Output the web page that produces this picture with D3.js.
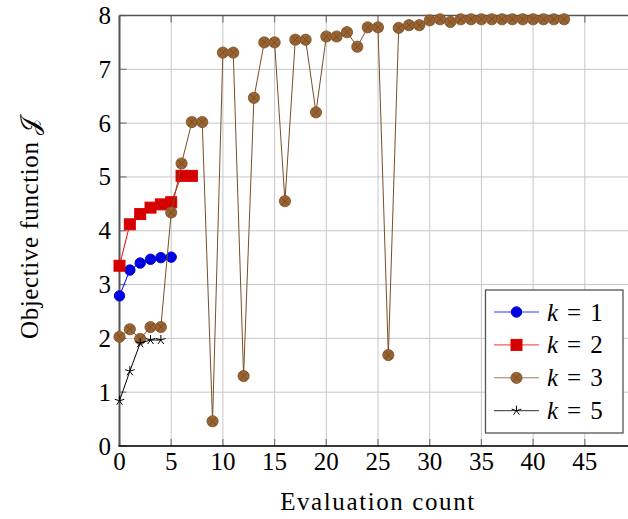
<!DOCTYPE html>
<html>
<head>
<meta charset="utf-8">
<script src="https://cdn.jsdelivr.net/npm/d3@7"></script>
<style>
  body { margin: 0; background: #fff; }
  text { font-family: "Liberation Serif", "DejaVu Serif", serif; }
</style>
</head>
<body>
<svg></svg>
<script>
// data
let k1 = [2.79, 3.27, 3.40, 3.47, 3.50, 3.51];
let k2 = [3.35, 4.12, 4.31, 4.43, 4.49, 4.53, 5.02, 5.02];
let k3 = [2.03, 2.17, 1.99, 2.21, 2.21, 4.34, 5.25, 6.02, 6.02, 0.46,
          7.31, 7.31, 1.30, 6.47, 7.50, 7.50, 4.55, 7.55, 7.55, 6.20,
          7.61, 7.61, 7.69, 7.42, 7.78, 7.78, 1.69, 7.77, 7.82, 7.82,
          7.91, 7.93, 7.88, 7.93, 7.93, 7.93, 7.93, 7.93, 7.93, 7.93,
          7.93, 7.93, 7.93, 7.93];
let k5 = [0.84, 1.39, 1.91, 1.97, 1.97];
let xTicks = [0, 5, 10, 15, 20, 25, 30, 35, 40, 45];
let yTicks = [0, 1, 2, 3, 4, 5, 6, 7, 8];
let legendLabels = ['1', '2', '3', '5'];

let config = { svg: {}, plot: {} };
config.svg.width = 628;
config.svg.height = 519;
config.plot.left = 119.5;
config.plot.right = 636.5;   // the right side is cut off by the picture edge
config.plot.top = 15.5;
config.plot.bottom = 446;

let svg = d3.select('svg')
  .attr('width', config.svg.width)
  .attr('height', config.svg.height);

let x = d3.scaleLinear().domain([0, 50]).range([config.plot.left, config.plot.right]);
let y = d3.scaleLinear().domain([0, 8]).range([config.plot.bottom, config.plot.top]);

// grid
let grid = svg.append('g');
grid.selectAll('.gx').data(xTicks).enter().append('line')
  .attr('x1', d => x(d)).attr('x2', d => x(d))
  .attr('y1', y(0)).attr('y2', y(8))
  .attr('stroke', '#c8c8c8').attr('stroke-width', 1);
grid.selectAll('.gy').data(yTicks).enter().append('line')
  .attr('x1', x(0)).attr('x2', config.svg.width)
  .attr('y1', d => y(d)).attr('y2', d => y(d))
  .attr('stroke', '#c8c8c8').attr('stroke-width', 1);

// inner ticks
let ticks = svg.append('g').attr('stroke', '#808080').attr('stroke-width', 1.3);
ticks.selectAll('.tb').data(xTicks).enter().append('line')
  .attr('x1', d => x(d)).attr('x2', d => x(d))
  .attr('y1', y(0)).attr('y2', y(0) - 7);
ticks.selectAll('.tt').data(xTicks).enter().append('line')
  .attr('x1', d => x(d)).attr('x2', d => x(d))
  .attr('y1', y(8)).attr('y2', y(8) + 7);
ticks.selectAll('.tl').data(yTicks).enter().append('line')
  .attr('x1', x(0)).attr('x2', x(0) + 7)
  .attr('y1', d => y(d)).attr('y2', d => y(d));

// frame
svg.append('line').attr('x1', x(0)).attr('x2', config.svg.width)
  .attr('y1', y(8)).attr('y2', y(8)).attr('stroke', '#555').attr('stroke-width', 1.5);
svg.append('line').attr('x1', x(0)).attr('x2', x(0))
  .attr('y1', y(8)).attr('y2', y(0)).attr('stroke', '#555').attr('stroke-width', 2);
svg.append('line').attr('x1', x(0) - 1).attr('x2', config.svg.width)
  .attr('y1', y(0)).attr('y2', y(0)).attr('stroke', '#000').attr('stroke-width', 1.6);

// tick labels
svg.append('g').selectAll('text').data(xTicks).enter().append('text')
  .attr('x', d => x(d)).attr('y', 470)
  .attr('text-anchor', 'middle').attr('font-size', 25)
  .text(d => d);
svg.append('g').selectAll('text').data(yTicks).enter().append('text')
  .attr('x', 111).attr('y', d => y(d) + 8.5)
  .attr('text-anchor', 'end').attr('font-size', 25)
  .text(d => d);

// axis titles
svg.append('text').attr('x', 378).attr('y', 510)
  .attr('text-anchor', 'middle').attr('font-size', 25)
  .attr('letter-spacing', 1.6)
  .text('Evaluation count');
svg.append('text')
  .attr('transform', translate(38, 228) + ' rotate(-90)')
  .attr('text-anchor', 'middle').attr('font-size', 25)
  .attr('letter-spacing', 0.6)
  .text('Objective function 𝒥');

// marker helpers
function drawMarker(g, type, cx, cy) {
  if (type === 'circle') {
    g.append('circle').attr('cx', cx).attr('cy', cy).attr('r', 5.2)
      .attr('fill', '#0000e0').attr('stroke', '#0000e0');
  } else if (type === 'square') {
    g.append('rect').attr('x', cx - 5.5).attr('y', cy - 5.5)
      .attr('width', 11).attr('height', 11)
      .attr('fill', '#d40000').attr('stroke', '#e00000');
  } else if (type === 'otimes') {
    g.append('circle').attr('cx', cx).attr('cy', cy).attr('r', 5.6)
      .attr('fill', '#9a6432').attr('stroke', '#7a4e26').attr('stroke-width', 0.8);
    let a = 5.6 * Math.SQRT1_2;
    g.append('path')
      .attr('d', `M${cx - a},${cy - a}L${cx + a},${cy + a}M${cx - a},${cy + a}L${cx + a},${cy - a}`)
      .attr('stroke', '#6e4622').attr('stroke-width', 0.8);
  } else if (type === 'star') {
    let r = 5, d = '';
    for (let i = 0; i < 5; i++) {
      let ang = -Math.PI / 2 + i * 2 * Math.PI / 5;
      d += `M${cx},${cy}L${cx + r * Math.cos(ang)},${cy + r * Math.sin(ang)}`;
    }
    g.append('path').attr('d', d).attr('stroke', '#000').attr('stroke-width', 1);
  }
}

let series = [
  { values: k1, line: '#0000ff', marker: 'circle' },
  { values: k2, line: '#ff0000', marker: 'square' },
  { values: k3, line: '#7a4e26', marker: 'otimes' },
  { values: k5, line: '#000000', marker: 'star' }
];

let line = d3.line().x((d, i) => x(i)).y(d => y(d));

series.forEach(function(s) {
  let g = svg.append('g');
  g.append('path').datum(s.values)
    .attr('fill', 'none').attr('stroke', s.line).attr('stroke-width', 1)
    .attr('d', line);
  s.values.forEach((v, i) => drawMarker(g, s.marker, x(i), y(v)));
});

// legend
let legend = svg.append('g');
legend.append('rect').attr('x', 485.5).attr('y', 290).attr('width', 137.5).attr('height', 143)
  .attr('fill', '#fff').attr('stroke', '#555').attr('stroke-width', 1.3);
series.forEach(function(s, i) {
  let ry = 312 + i * 32.9;
  legend.append('line').attr('x1', 494).attr('x2', 539).attr('y1', ry).attr('y2', ry)
    .attr('stroke', s.line).attr('stroke-width', 1).attr('opacity', s.marker === 'otimes' ? 0.75 : 0.8);
  drawMarker(legend, s.marker, 516.5, ry);
  let t = legend.append('text').attr('x', 547).attr('y', ry + 8.5).attr('font-size', 25);
  t.append('tspan').attr('font-style', 'italic').text('k');
  t.append('tspan').attr('dx', 9).text('=');
  t.append('tspan').attr('dx', 9).text(legendLabels[i]);
});

function translate(x, y) {
  return 'translate(' + x + ',' + y + ')';
}
</script>
</body>
</html>
